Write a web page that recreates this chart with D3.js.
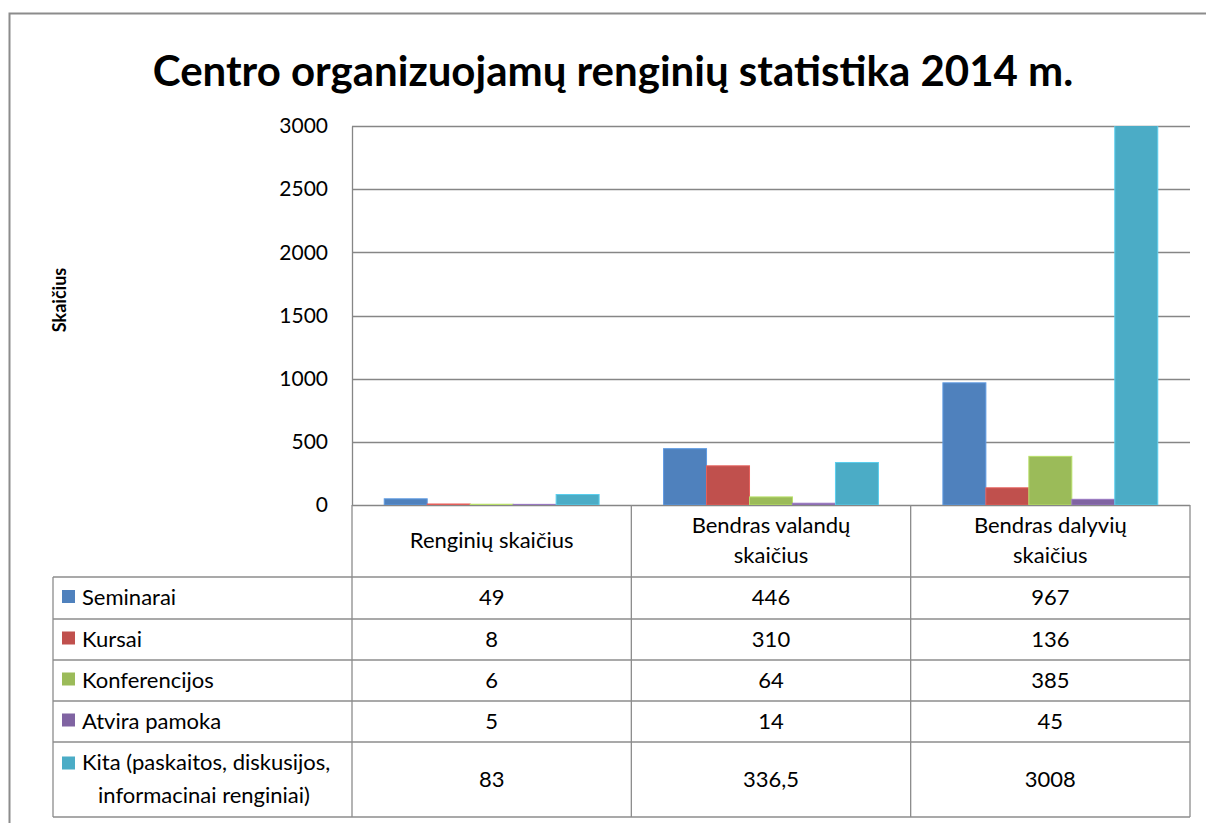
<!DOCTYPE html>
<html>
<head>
<meta charset="utf-8">
<script src="https://cdn.jsdelivr.net/npm/d3@7"></script>
<style>
  body { margin: 0; background: #fff; }
  text { font-family: Lato, "Open Sans", sans-serif; fill: #000; }
</style>
</head>
<body>
<div id="chart-area"></div>
<script>
var categories = [["Renginių skaičius"], ["Bendras valandų", "skaičius"], ["Bendras dalyvių", "skaičius"]];
var seriesNames = [["Seminarai"], ["Kursai"], ["Konferencijos"], ["Atvira pamoka"], ["Kita (paskaitos, diskusijos,", "informacinai renginiai)"]];
var seminarai = [49, 446, 967];
var kursai = [8, 310, 136];
var konferencijos = [6, 64, 385];
var atviraPamoka = [5, 14, 45];
var kita = [83, 336.5, 3008];
var yTicks = [0, 500, 1000, 1500, 2000, 2500, 3000];
var colors = ["#4F81BD", "#C0504D", "#9BBB59", "#8064A2", "#4BACC6"];

var values = [seminarai, kursai, konferencijos, atviraPamoka, kita];

const W = 1206, H = 823
const PLOT = { LEFT: 352, RIGHT: 1190, TOP: 126, BOTTOM: 505 }
const TABLE_LEFT = 53
const HEADER_BOTTOM = 577
const rowBounds = [577, 619, 660, 701, 742, 817]
const FS = 22

const svg = d3.select("#chart-area").append("svg")
  .attr("width", W)
  .attr("height", H)

// chart border
svg.append("path")
  .attr("d", `M9.5,${H} V13.5 H${W}`)
  .attr("fill", "none")
  .attr("stroke", "#8c8c8c")
  .attr("stroke-width", 2)

svg.append("text")
  .attr("x", 613)
  .attr("y", 86)
  .attr("text-anchor", "middle")
  .attr("font-size", 42)
  .attr("font-weight", "bold")
  .text("Centro organizuojamų renginių statistika 2014 m.")

svg.append("text")
  .attr("transform", "translate(66,300) rotate(-90)")
  .attr("text-anchor", "middle")
  .attr("font-size", 18)
  .attr("font-weight", "bold")
  .text("Skaičius")

var x0 = d3.scaleBand()
  .domain(d3.range(categories.length))
  .range([PLOT.LEFT, PLOT.RIGHT])

// gap width 150% -> 0.75 bar of space on each side of a cluster
var barW = x0.bandwidth() / (values.length + 1.5)
var x1Left = barW * 0.75

var y = d3.scaleLinear()
  .domain([0, 3000])
  .range([PLOT.BOTTOM, PLOT.TOP])

// gridlines
svg.append("g")
  .selectAll("line")
  .data(yTicks)
  .join("line")
  .attr("x1", PLOT.LEFT)
  .attr("x2", PLOT.RIGHT)
  .attr("y1", d => Math.round(y(d)) + 0.5)
  .attr("y2", d => Math.round(y(d)) + 0.5)
  .attr("stroke", "#868686")
  .attr("stroke-width", 1.3)

var yAxis = svg.append("g")
  .attr("transform", `translate(${PLOT.LEFT},0)`)
  .call(d3.axisLeft(y).tickValues(yTicks).tickFormat(d3.format("d")).tickSize(0).tickPadding(24))
yAxis.select(".domain").attr("stroke", "#868686").attr("stroke-width", 1.3)
yAxis.selectAll("text")
  .attr("font-size", 21)
  .attr("font-family", "Lato, sans-serif")
  .attr("fill", "#000")

svg.append("clipPath").attr("id", "plot-clip")
  .append("rect")
  .attr("x", PLOT.LEFT).attr("y", PLOT.TOP)
  .attr("width", PLOT.RIGHT - PLOT.LEFT).attr("height", PLOT.BOTTOM - PLOT.TOP)

var bars = svg.append("g").attr("clip-path", "url(#plot-clip)")
values.forEach((vals, s) => {
  bars.selectAll(".bar-" + s)
    .data(vals)
    .join("rect")
    .attr("class", "bar-" + s)
    .attr("x", (d, i) => x0(i) + x1Left + s * barW)
    .attr("y", d => y(d))
    .attr("width", barW)
    .attr("height", d => y(0) - y(d))
    .attr("fill", colors[s])
    .attr("stroke", d3.color(colors[s]).brighter(0.5))
    .attr("stroke-width", 1)
})

// data table
var tableLines = svg.append("g").attr("stroke", "#8c8c8c").attr("stroke-width", 1.3)
rowBounds.forEach(yy => {
  tableLines.append("line")
    .attr("x1", TABLE_LEFT).attr("x2", PLOT.RIGHT)
    .attr("y1", yy).attr("y2", yy)
})
tableLines.append("line")
  .attr("x1", TABLE_LEFT).attr("x2", TABLE_LEFT)
  .attr("y1", rowBounds[0]).attr("y2", rowBounds[rowBounds.length - 1])
var colEdges = d3.range(categories.length).map(i => x0(i)).concat([PLOT.RIGHT])
colEdges.forEach(xx => {
  tableLines.append("line")
    .attr("x1", xx).attr("x2", xx)
    .attr("y1", PLOT.BOTTOM).attr("y2", rowBounds[rowBounds.length - 1])
})

// header labels
categories.forEach((lines, i) => {
  var cy = (PLOT.BOTTOM + HEADER_BOTTOM) / 2
  var t = svg.append("text")
    .attr("text-anchor", "middle")
    .attr("font-size", FS)
  lines.forEach((ln, k) => {
    t.append("tspan")
      .attr("x", x0(i) + x0.bandwidth() / 2)
      .attr("y", cy + 7 + (k - (lines.length - 1) / 2) * 30)
      .text(ln)
  })
})

function fmt(v) { return String(v).replace(".", ",") }

values.forEach((vals, s) => {
  var top = rowBounds[s], bot = rowBounds[s + 1]
  var cy = (top + bot) / 2
  svg.append("rect")
    .attr("x", 62).attr("y", cy - 13 + (seriesNames[s].length > 1 ? -15 : 0) + 5)
    .attr("width", 13).attr("height", 13)
    .attr("fill", colors[s])
  var t = svg.append("text").attr("font-size", FS)
  seriesNames[s].forEach((ln, k) => {
    t.append("tspan")
      .attr("x", k === 0 ? 82 : 98)
      .attr("y", cy + 7 + (k - (seriesNames[s].length - 1) / 2) * 33)
      .text(ln)
  })
  vals.forEach((v, i) => {
    svg.append("text")
      .attr("x", x0(i) + x0.bandwidth() / 2)
      .attr("y", cy + 7)
      .attr("text-anchor", "middle")
      .attr("font-size", FS)
      .text(fmt(v))
  })
})
</script>
</body>
</html>
